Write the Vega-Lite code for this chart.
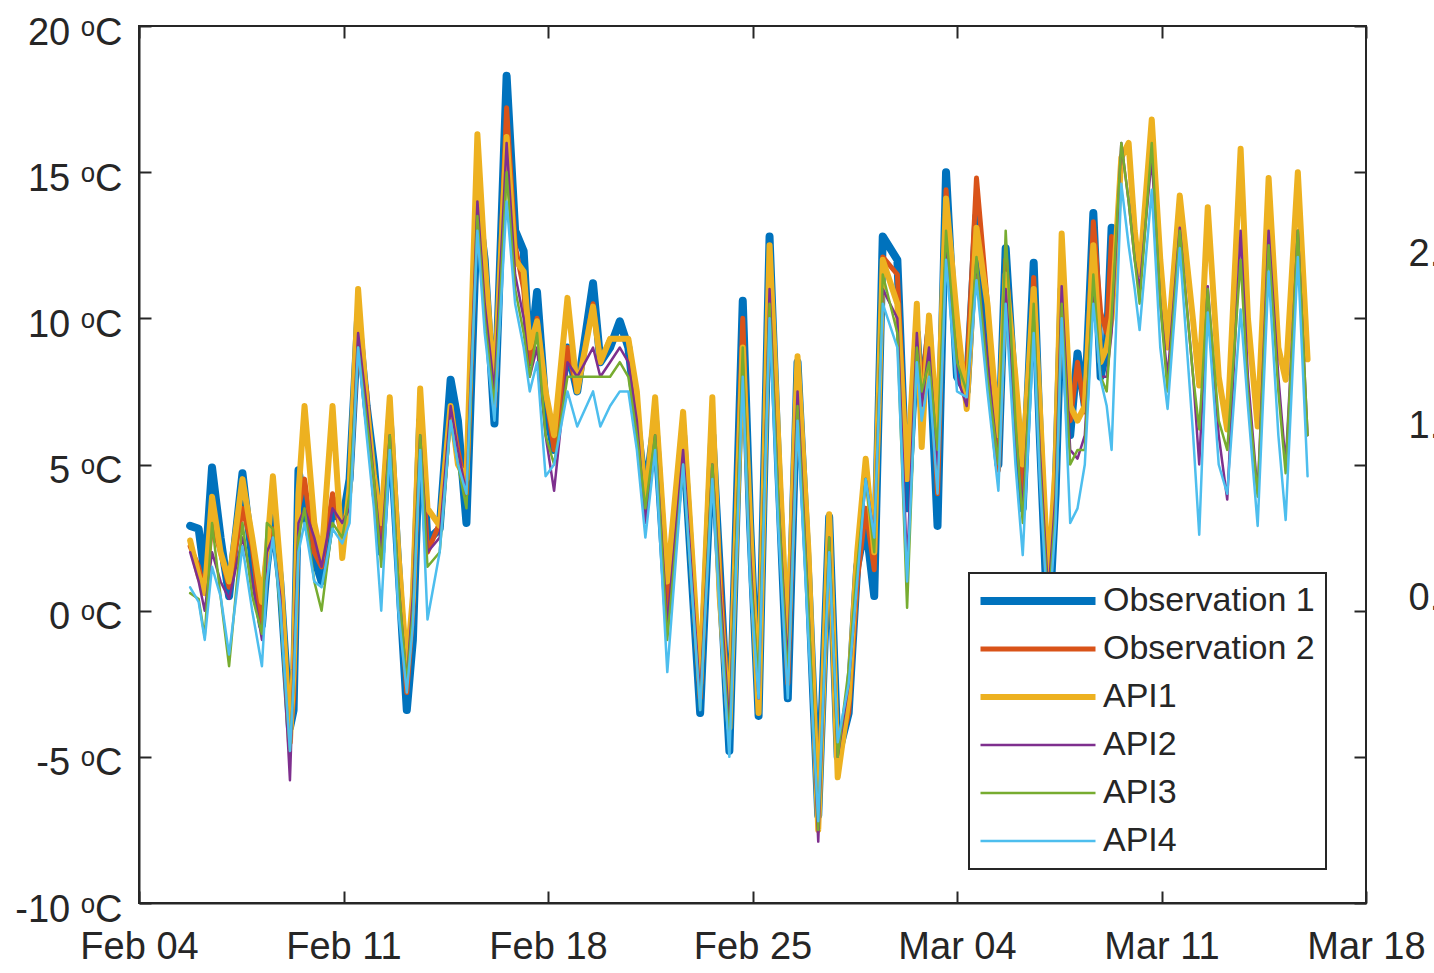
{
 "$schema": "https://vega.github.io/schema/vega-lite/v6.json",
 "width": 1227, "height": 877,
 "autosize": {"type": "none"},
 "padding": {"left": 139, "top": 26, "right": 68, "bottom": 70},
 "background": "white",
 "config": {
  "font": "Liberation Sans",
  "view": {"stroke": "#262626", "strokeWidth": 2},
  "legend": {"strokeWidth": 2},
  "axis": {"grid": false, "title": null, "domainColor": "#262626", "domainWidth": 2, "tickColor": "#262626", "tickWidth": 2, "tickSize": -12, "labelColor": "#262626", "labelFontSize": 38, "labelFont": "Liberation Sans"}
 },
 "layer": [
  {
   "data": {"values": [
    {"t":"2018-02-05T18:00","a":2.9,"b":2.2,"c":2.4,"d":2.0,"e":0.6,"f":0.8},
    {"t":"2018-02-06T01:00","a":2.8,"b":1.5,"c":1.2,"d":1.0,"e":0.4,"f":0.3},
    {"t":"2018-02-06T06:00","a":1.2,"b":0.6,"c":0.6,"d":0.0,"e":-0.9,"f":-1.0},
    {"t":"2018-02-06T12:00","a":4.9,"b":3.0,"c":3.9,"d":2.0,"e":3.0,"f":1.5},
    {"t":"2018-02-06T19:00","a":2.5,"b":2.0,"c":2.0,"d":1.0,"e":0.5,"f":0.5},
    {"t":"2018-02-07T02:00","a":0.5,"b":0.8,"c":1.0,"d":0.4,"e":-1.9,"f":-1.5},
    {"t":"2018-02-07T13:00","a":4.7,"b":3.5,"c":4.5,"d":2.5,"e":3.0,"f":2.2},
    {"t":"2018-02-07T21:00","a":1.8,"b":2.2,"c":2.5,"d":1.0,"e":0.5,"f":0.0},
    {"t":"2018-02-08T05:00","a":-0.5,"b":-0.6,"c":0.3,"d":-1.0,"e":-0.8,"f":-1.9},
    {"t":"2018-02-08T09:00","a":1.5,"b":1.5,"c":2.0,"d":2.0,"e":3.0,"f":1.0},
    {"t":"2018-02-08T14:00","a":3.2,"b":2.8,"c":4.6,"d":2.5,"e":2.8,"f":2.5},
    {"t":"2018-02-08T20:00","a":1.0,"b":1.2,"c":1.5,"d":0.5,"e":0.0,"f":0.2},
    {"t":"2018-02-09T04:00","a":-4.0,"b":-4.3,"c":-4.5,"d":-5.8,"e":-4.8,"f":-4.8},
    {"t":"2018-02-09T07:00","a":-3.4,"b":-3.0,"c":-2.0,"d":-2.0,"e":-2.5,"f":-2.5},
    {"t":"2018-02-09T11:00","a":4.8,"b":3.5,"c":4.0,"d":3.0,"e":2.5,"f":2.0},
    {"t":"2018-02-09T16:00","a":3.5,"b":4.5,"c":7.0,"d":3.5,"e":3.5,"f":3.0},
    {"t":"2018-02-10T00:00","a":1.8,"b":2.0,"c":3.0,"d":2.5,"e":1.0,"f":1.0},
    {"t":"2018-02-10T06:00","a":1.0,"b":1.5,"c":1.8,"d":1.5,"e":0.0,"f":0.8},
    {"t":"2018-02-10T15:00","a":3.5,"b":4.0,"c":7.0,"d":3.5,"e":3.0,"f":2.8},
    {"t":"2018-02-10T23:00","a":3.0,"b":2.5,"c":1.8,"d":3.0,"e":2.5,"f":2.3},
    {"t":"2018-02-11T05:00","a":4.5,"b":4.0,"c":4.2,"d":3.5,"e":4.0,"f":3.0},
    {"t":"2018-02-11T12:00","a":10.0,"b":9.5,"c":11.0,"d":9.5,"e":9.0,"f":9.0},
    {"t":"2018-02-11T19:00","a":7.0,"b":7.5,"c":7.0,"d":7.0,"e":6.5,"f":6.0},
    {"t":"2018-02-12T01:00","a":5.0,"b":4.0,"c":4.6,"d":4.5,"e":4.5,"f":3.5},
    {"t":"2018-02-12T07:00","a":2.0,"b":2.5,"c":3.0,"d":2.0,"e":1.5,"f":0.0},
    {"t":"2018-02-12T14:00","a":6.5,"b":7.0,"c":7.3,"d":6.0,"e":6.0,"f":5.5},
    {"t":"2018-02-12T21:00","a":1.5,"b":1.5,"c":2.0,"d":1.0,"e":1.0,"f":0.0},
    {"t":"2018-02-13T04:00","a":-3.4,"b":-2.8,"c":-2.0,"d":-2.5,"e":-2.5,"f":-2.8},
    {"t":"2018-02-13T09:00","a":-1.0,"b":0.0,"c":0.5,"d":0.5,"e":0.0,"f":-0.5},
    {"t":"2018-02-13T15:00","a":6.5,"b":6.5,"c":7.6,"d":6.0,"e":6.0,"f":5.5},
    {"t":"2018-02-13T21:00","a":2.4,"b":2.0,"c":3.5,"d":2.0,"e":1.5,"f":-0.3},
    {"t":"2018-02-14T07:00","a":2.8,"b":3.0,"c":2.9,"d":2.5,"e":2.0,"f":2.0},
    {"t":"2018-02-14T16:00","a":7.9,"b":7.0,"c":7.0,"d":7.0,"e":6.5,"f":6.5},
    {"t":"2018-02-14T22:00","a":6.5,"b":5.5,"c":5.0,"d":5.5,"e":5.0,"f":5.0},
    {"t":"2018-02-15T05:00","a":3.0,"b":4.0,"c":4.5,"d":4.0,"e":3.5,"f":4.0},
    {"t":"2018-02-15T14:00","a":14.0,"b":14.5,"c":16.3,"d":14.0,"e":13.5,"f":13.0},
    {"t":"2018-02-15T20:00","a":12.0,"b":11.0,"c":12.0,"d":10.5,"e":10.0,"f":9.5},
    {"t":"2018-02-16T04:00","a":6.4,"b":7.0,"c":7.5,"d":7.5,"e":7.0,"f":6.5},
    {"t":"2018-02-16T14:00","a":18.3,"b":17.2,"c":16.2,"d":16.0,"e":15.0,"f":14.0},
    {"t":"2018-02-16T21:00","a":13.0,"b":12.5,"c":12.0,"d":11.5,"e":11.0,"f":10.5},
    {"t":"2018-02-17T04:00","a":12.3,"b":11.0,"c":11.6,"d":10.0,"e":9.5,"f":9.0},
    {"t":"2018-02-17T09:00","a":8.5,"b":8.5,"c":9.0,"d":8.0,"e":8.0,"f":7.5},
    {"t":"2018-02-17T15:00","a":10.9,"b":10.0,"c":9.9,"d":9.0,"e":9.5,"f":8.5},
    {"t":"2018-02-17T22:00","a":7.0,"b":7.5,"c":7.5,"d":6.0,"e":6.0,"f":4.6},
    {"t":"2018-02-18T05:00","a":5.5,"b":5.5,"c":6.0,"d":4.1,"e":5.0,"f":5.0},
    {"t":"2018-02-18T16:00","a":9.0,"b":9.0,"c":10.7,"d":8.5,"e":8.0,"f":7.5},
    {"t":"2018-02-19T00:00","a":7.5,"b":7.5,"c":7.5,"d":8.0,"e":8.0,"f":6.3},
    {"t":"2018-02-19T13:00","a":11.2,"b":10.5,"c":10.4,"d":9.0,"e":8.0,"f":7.5},
    {"t":"2018-02-19T19:00","a":8.5,"b":8.5,"c":8.5,"d":8.0,"e":8.0,"f":6.3},
    {"t":"2018-02-20T03:00","a":9.0,"b":9.3,"c":9.3,"d":8.5,"e":8.0,"f":7.0},
    {"t":"2018-02-20T11:00","a":9.9,"b":9.3,"c":9.3,"d":9.0,"e":8.5,"f":7.5},
    {"t":"2018-02-20T18:00","a":9.0,"b":9.3,"c":9.3,"d":8.5,"e":8.0,"f":7.5},
    {"t":"2018-02-21T01:00","a":6.5,"b":7.0,"c":7.5,"d":6.5,"e":6.0,"f":5.5},
    {"t":"2018-02-21T08:00","a":4.0,"b":3.5,"c":3.5,"d":3.0,"e":3.5,"f":2.5},
    {"t":"2018-02-21T16:00","a":6.5,"b":6.5,"c":7.3,"d":6.0,"e":6.0,"f":5.5},
    {"t":"2018-02-22T02:00","a":0.0,"b":0.0,"c":1.0,"d":-0.5,"e":-1.0,"f":-2.1},
    {"t":"2018-02-22T15:00","a":6.0,"b":6.0,"c":6.8,"d":5.5,"e":5.0,"f":5.0},
    {"t":"2018-02-23T05:00","a":-3.5,"b":-3.0,"c":-2.5,"d":-3.0,"e":-3.4,"f":-3.4},
    {"t":"2018-02-23T15:00","a":6.0,"b":6.0,"c":7.3,"d":5.0,"e":5.0,"f":4.5},
    {"t":"2018-02-23T21:00","a":1.5,"b":1.5,"c":0.5,"d":1.0,"e":0.5,"f":0.0},
    {"t":"2018-02-24T05:00","a":-4.8,"b":-4.0,"c":-4.0,"d":-4.0,"e":-4.5,"f":-5.0},
    {"t":"2018-02-24T16:00","a":10.6,"b":10.0,"c":9.0,"d":8.5,"e":9.0,"f":8.0},
    {"t":"2018-02-24T22:00","a":3.0,"b":2.5,"c":3.0,"d":2.0,"e":1.5,"f":1.0},
    {"t":"2018-02-25T05:00","a":-3.6,"b":-3.0,"c":-3.5,"d":-3.0,"e":-2.5,"f":-3.0},
    {"t":"2018-02-25T14:00","a":12.8,"b":12.0,"c":12.5,"d":11.0,"e":10.5,"f":10.0},
    {"t":"2018-02-25T21:00","a":5.0,"b":5.0,"c":6.0,"d":4.0,"e":4.0,"f":3.0},
    {"t":"2018-02-26T05:00","a":-3.0,"b":-2.5,"c":-1.3,"d":-2.0,"e":-2.5,"f":-3.0},
    {"t":"2018-02-26T13:00","a":8.5,"b":8.0,"c":8.7,"d":7.5,"e":7.0,"f":6.5},
    {"t":"2018-02-26T22:00","a":1.0,"b":1.0,"c":2.0,"d":0.0,"e":0.0,"f":-1.0},
    {"t":"2018-02-27T06:00","a":-7.0,"b":-7.0,"c":-7.5,"d":-7.9,"e":-7.5,"f":-7.2},
    {"t":"2018-02-27T15:00","a":3.2,"b":3.0,"c":3.3,"d":2.5,"e":2.5,"f":2.0},
    {"t":"2018-02-27T22:00","a":-5.0,"b":-5.0,"c":-5.7,"d":-5.0,"e":-5.0,"f":-4.5},
    {"t":"2018-02-28T07:00","a":-3.5,"b":-3.5,"c":-3.0,"d":-2.5,"e":-2.0,"f":-2.5},
    {"t":"2018-02-28T14:00","a":1.5,"b":1.0,"c":2.0,"d":1.0,"e":1.5,"f":1.0},
    {"t":"2018-02-28T21:00","a":3.0,"b":3.5,"c":5.2,"d":4.5,"e":4.5,"f":4.5},
    {"t":"2018-03-01T04:00","a":0.5,"b":1.4,"c":2.0,"d":2.5,"e":2.0,"f":2.5},
    {"t":"2018-03-01T11:00","a":12.8,"b":12.1,"c":12.0,"d":11.0,"e":11.5,"f":10.5},
    {"t":"2018-03-01T23:00","a":12.0,"b":11.5,"c":10.5,"d":10.0,"e":9.5,"f":9.0},
    {"t":"2018-03-02T07:00","a":3.5,"b":4.5,"c":4.5,"d":1.5,"e":0.1,"f":1.0},
    {"t":"2018-03-02T15:00","a":9.5,"b":9.5,"c":10.5,"d":9.5,"e":9.0,"f":8.5},
    {"t":"2018-03-02T19:00","a":7.0,"b":7.5,"c":5.6,"d":7.0,"e":7.5,"f":6.5},
    {"t":"2018-03-03T01:00","a":9.5,"b":10.0,"c":10.1,"d":9.0,"e":8.5,"f":8.0},
    {"t":"2018-03-03T08:00","a":2.9,"b":4.0,"c":6.0,"d":5.0,"e":5.5,"f":4.0},
    {"t":"2018-03-03T15:00","a":15.0,"b":14.4,"c":14.1,"d":12.5,"e":13.0,"f":12.0},
    {"t":"2018-03-04T00:00","a":8.0,"b":9.0,"c":10.0,"d":8.0,"e":8.5,"f":7.5},
    {"t":"2018-03-04T08:00","a":7.5,"b":8.0,"c":6.9,"d":7.0,"e":7.5,"f":7.3},
    {"t":"2018-03-04T16:00","a":13.5,"b":14.8,"c":13.1,"d":12.0,"e":12.1,"f":11.3},
    {"t":"2018-03-05T01:00","a":9.0,"b":10.5,"c":10.5,"d":8.5,"e":8.0,"f":7.5},
    {"t":"2018-03-05T10:00","a":5.0,"b":4.8,"c":6.0,"d":5.0,"e":5.0,"f":4.1},
    {"t":"2018-03-05T16:00","a":12.4,"b":12.0,"c":11.5,"d":11.0,"e":13.0,"f":10.5},
    {"t":"2018-03-06T00:00","a":7.0,"b":7.5,"c":8.0,"d":6.0,"e":6.5,"f":5.0},
    {"t":"2018-03-06T06:00","a":3.5,"b":4.0,"c":5.0,"d":3.5,"e":3.0,"f":1.9},
    {"t":"2018-03-06T15:00","a":11.9,"b":11.4,"c":11.0,"d":10.0,"e":10.5,"f":9.5},
    {"t":"2018-03-06T20:00","a":6.0,"b":6.5,"c":7.0,"d":5.5,"e":5.0,"f":4.5},
    {"t":"2018-03-07T03:00","a":-1.0,"b":0.0,"c":1.0,"d":0.5,"e":0.0,"f":-0.5},
    {"t":"2018-03-07T09:00","a":4.0,"b":4.5,"c":5.0,"d":4.0,"e":3.5,"f":3.0},
    {"t":"2018-03-07T14:00","a":11.0,"b":11.5,"c":12.9,"d":11.1,"e":10.5,"f":10.0},
    {"t":"2018-03-07T21:00","a":6.0,"b":6.5,"c":7.0,"d":5.5,"e":5.0,"f":3.0},
    {"t":"2018-03-08T03:00","a":8.8,"b":8.5,"c":6.5,"d":5.2,"e":5.5,"f":3.5},
    {"t":"2018-03-08T09:00","a":7.0,"b":6.8,"c":7.0,"d":6.0,"e":5.5,"f":5.0},
    {"t":"2018-03-08T16:00","a":13.6,"b":13.3,"c":12.5,"d":11.0,"e":11.5,"f":10.5},
    {"t":"2018-03-08T22:00","a":8.0,"b":10.2,"c":8.5,"d":8.0,"e":8.0,"f":7.9},
    {"t":"2018-03-09T03:00","a":9.0,"b":9.5,"c":9.0,"d":8.0,"e":7.5,"f":7.0},
    {"t":"2018-03-09T07:00","a":13.1,"b":12.8,"c":10.0,"d":9.5,"e":10.0,"f":5.5},
    {"t":"2018-03-09T15:00","c":15.5,"d":16.0,"e":16.0,"f":14.6},
    {"t":"2018-03-09T21:00","c":16.0,"d":14.0,"e":14.0,"f":12.5},
    {"t":"2018-03-10T02:00","c":13.0,"d":12.0,"e":12.0,"f":11.0},
    {"t":"2018-03-10T06:00","c":11.5,"d":11.0,"e":10.5,"f":9.6},
    {"t":"2018-03-10T16:00","c":16.8,"d":15.5,"e":16.0,"f":14.4},
    {"t":"2018-03-10T23:00","c":12.0,"d":10.5,"e":10.5,"f":9.0},
    {"t":"2018-03-11T05:00","c":9.0,"d":8.0,"e":7.5,"f":6.9},
    {"t":"2018-03-11T15:00","c":14.2,"d":13.1,"e":13.0,"f":12.4},
    {"t":"2018-03-12T02:00","c":9.9,"d":8.0,"e":8.0,"f":6.0},
    {"t":"2018-03-12T07:00","c":7.7,"d":5.0,"e":6.2,"f":2.6},
    {"t":"2018-03-12T14:00","c":13.8,"d":11.1,"e":11.0,"f":10.2},
    {"t":"2018-03-12T23:00","c":8.0,"d":6.0,"e":6.5,"f":5.0},
    {"t":"2018-03-13T06:00","c":6.2,"d":3.8,"e":5.5,"f":4.0},
    {"t":"2018-03-13T17:00","c":15.8,"d":13.0,"e":12.0,"f":10.3},
    {"t":"2018-03-13T23:00","c":10.0,"d":8.0,"e":7.5,"f":7.0},
    {"t":"2018-03-14T07:00","c":6.3,"d":4.0,"e":3.9,"f":2.9},
    {"t":"2018-03-14T16:00","c":14.8,"d":13.0,"e":12.5,"f":11.6},
    {"t":"2018-03-15T00:00","c":9.0,"d":8.0,"e":7.5,"f":6.0},
    {"t":"2018-03-15T06:00","c":7.9,"d":5.0,"e":4.7,"f":3.1},
    {"t":"2018-03-15T16:00","c":15.0,"d":13.0,"e":13.0,"f":12.1},
    {"t":"2018-03-16T00:00","c":8.6,"d":6.0,"e":6.0,"f":4.6}
   ]},
   "transform": [
    {"fold": ["a", "b", "c", "d", "e", "f"], "as": ["series", "value"]},
    {"filter": "isValid(datum.value)"}
   ],
   "mark": {"type": "line", "strokeJoin": "round", "strokeCap": "round"},
   "encoding": {
    "x": {"field": "t", "type": "temporal",
     "scale": {"domain": [{"year": 2018, "month": "feb", "date": 4}, {"year": 2018, "month": "mar", "date": 18}]},
     "axis": {"orient": "bottom", "format": "%b %d", "labelPadding": 37, "labelFlush": false,
      "values": [{"year": 2018, "month": "feb", "date": 4}, {"year": 2018, "month": "feb", "date": 11}, {"year": 2018, "month": "feb", "date": 18}, {"year": 2018, "month": "feb", "date": 25}, {"year": 2018, "month": "mar", "date": 4}, {"year": 2018, "month": "mar", "date": 11}, {"year": 2018, "month": "mar", "date": 18}]}},
    "y": {"field": "value", "type": "quantitative",
     "scale": {"domain": [-10, 20], "nice": false, "zero": false},
     "axis": {"orient": "left", "values": [-10, -5, 0, 5, 10, 15, 20], "labelExpr": "datum.value + ' ᵒC'", "labelPadding": 29, "labelOffset": 7}},
    "color": {"field": "series", "type": "nominal",
     "scale": {"domain": ["a", "b", "c", "d", "e", "f"], "range": ["#0072BD", "#D95319", "#EDB120", "#7E2F8E", "#77AC30", "#4DBEEE"]},
     "legend": {"orient": "none", "legendX": 830, "legendY": 547, "title": null,
      "labelExpr": "datum.label == 'a' ? 'Observation 1' : datum.label == 'b' ? 'Observation 2' : datum.label == 'c' ? 'API1' : datum.label == 'd' ? 'API2' : datum.label == 'e' ? 'API3' : 'API4'",
      "symbolType": "M-4.6,0H4.6", "symbolSize": 625, "symbolOffset": 41, "labelFontSize": 34, "labelColor": "#262626", "labelFont": "Liberation Sans", "labelLimit": 500,
      "fillColor": "white", "strokeColor": "#262626", "padding": 11, "rowPadding": 14, "labelOffset": 48}},
    "strokeWidth": {"field": "series", "type": "nominal",
     "scale": {"type": "ordinal", "domain": ["a", "b", "c", "d", "e", "f"], "range": [8, 5, 6, 2.5, 2.5, 2.5]},
     "legend": {"orient": "none", "legendX": 830, "legendY": 547, "title": null,
      "labelExpr": "datum.label == 'a' ? 'Observation 1' : datum.label == 'b' ? 'Observation 2' : datum.label == 'c' ? 'API1' : datum.label == 'd' ? 'API2' : datum.label == 'e' ? 'API3' : 'API4'",
      "symbolType": "M-4.6,0H4.6", "symbolSize": 625, "symbolOffset": 41, "labelFontSize": 34, "labelColor": "#262626", "labelFont": "Liberation Sans", "labelLimit": 500,
      "fillColor": "white", "strokeColor": "#262626", "padding": 11, "rowPadding": 14, "labelOffset": 48}}
   }
  },
  {
   "data": {"values": [{"t": "2018-02-04T00:00", "v": -10}, {"t": "2018-03-18T00:00", "v": 20}]},
   "mark": {"type": "point", "opacity": 0},
   "encoding": {
    "x": {"field": "t", "type": "temporal",
     "axis": {"orient": "top", "labels": false, "domain": false,
      "values": [{"year": 2018, "month": "feb", "date": 4}, {"year": 2018, "month": "feb", "date": 11}, {"year": 2018, "month": "feb", "date": 18}, {"year": 2018, "month": "feb", "date": 25}, {"year": 2018, "month": "mar", "date": 4}, {"year": 2018, "month": "mar", "date": 11}, {"year": 2018, "month": "mar", "date": 18}]}},
    "y": {"field": "v", "type": "quantitative",
     "scale": {"domain": [-10, 20], "nice": false, "zero": false},
     "axis": {"orient": "right", "values": [-10, -5, 0, 5, 10, 15, 20], "labels": false, "domain": false}}
   }
  },
  {
   "data": {"values": [{"r": 0}, {"r": 2}]},
   "mark": {"type": "point", "opacity": 0},
   "encoding": {
    "y": {"field": "r", "type": "quantitative",
     "scale": {"domain": [-1.778, 3.335], "nice": false, "zero": false},
     "axis": {"orient": "right", "values": [0, 1, 2], "labelExpr": "datum.value + '.'", "ticks": false, "domain": false, "labelPadding": 42, "labelAlign": "left"}}
   }
  }
 ],
 "resolve": {"scale": {"y": "independent"}, "axis": {"x": "independent", "y": "independent"}}
}
